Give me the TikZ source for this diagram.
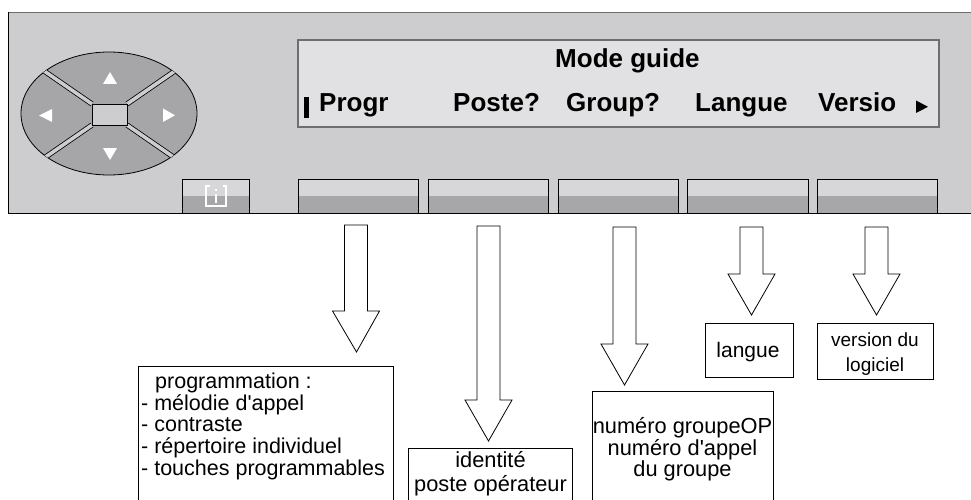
\documentclass[tikz,border=0pt]{standalone}
\usepackage{fontspec}
\setmainfont{Liberation Sans}
\usetikzlibrary{calc}
\definecolor{panel}{HTML}{CDCDCF}
\definecolor{navdark}{HTML}{A6A6A8}
\definecolor{dispfill}{HTML}{E1E1E3}
\definecolor{dispborder}{HTML}{6E6E6E}
\definecolor{keytop}{HTML}{D7D7D9}
\definecolor{keybot}{HTML}{A7A7A9}
\tikzset{
  softkey/.style={draw=black, line width=0.8pt, fill=keybot, anchor=north west, inner sep=0pt,
    minimum height=34pt,
    path picture={\fill[keytop] (path picture bounding box.north west) rectangle (path picture bounding box.east);}},
  disptext/.style={font=\fontsize{26}{30}\selectfont\bfseries, inner sep=0pt, anchor=base west},
  lbox/.style={draw=black, line width=0.8pt, fill=white, inner sep=0pt, anchor=north west},
  ltext/.style={inner sep=0pt},
  barrow/.style={draw=black, line width=0.8pt, fill=white, line join=miter},
  gapline/.style={draw=black, line width=0.8pt, double=panel, double distance=3.6pt}
}
\newcommand\blockarrow[2]{\draw[barrow] let \p1=(#1), \p2=(#2) in
  (\x1-11.5pt,\y1) -- (\x1-11.5pt,\y2+41pt) -- (\x1-23.5pt,\y2+41pt) -- (\x2,\y2)
  -- (\x1+23.5pt,\y2+41pt) -- (\x1+11.5pt,\y2+41pt) -- (\x1+11.5pt,\y1) -- cycle;}
\begin{document}
\begin{tikzpicture}[x=1pt,y=-1pt]
\useasboundingbox (0,0) rectangle (971,500);
% panel
\fill[panel] (8,12) rectangle (990,213);
\draw[dispborder, line width=0.8pt] (990,12) -- (8,12);
\draw[black, line width=0.8pt] (8,12) -- (8,213) -- (990,213);
% navigation cluster
\fill[navdark] (109,113.5) ellipse [x radius=88, y radius=61.5];
\draw[line width=0.8pt] (109,113.5) ellipse [x radius=88, y radius=61.5];
\begin{scope}
  \clip (109,113.5) ellipse [x radius=88, y radius=61.5];
  \draw[gapline] (92,104) -- ++(-100,-69);
  \draw[gapline] (127,104) -- ++(100,-69);
  \draw[gapline] (92,125) -- ++(-100,69);
  \draw[gapline] (127,125) -- ++(100,69);
\end{scope}
\node[draw=black, line width=0.8pt, fill=panel, inner sep=0pt, minimum width=35pt, minimum height=21pt, anchor=north west] (navc) at (92,104) {};
\fill[white] (103,84) -- (117,84) -- (110,72) -- cycle;
\fill[white] (52,109) -- (52,122) -- (39,115.5) -- cycle;
\fill[white] (163,108.5) -- (163,122) -- (175,115.3) -- cycle;
\fill[white] (103,148) -- (117,148) -- (110,160) -- cycle;
% display
\node[draw=dispborder, line width=1.6pt, fill=dispfill, inner sep=0pt, minimum width=641pt, minimum height=87pt, anchor=north west] (display) at (297,39) {};
\node[disptext] (mode) at (555,68) {Mode guide};
\fill (304,97) rectangle (309,118);
\node[disptext] (tprogr) at (319,112) {Progr};
\node[disptext] (tposte) at (453,112) {Poste?};
\node[disptext] (tgroup) at (566,112) {Group?};
\node[disptext] (tlangue) at (695,112) {Langue};
\node[disptext] (tversio) at (818,112) {Versio};
\fill (916,100.5) -- (928,106.8) -- (916,113) -- cycle;
% soft keys
\node[softkey, minimum width=67pt] (kinfo) at (182,179) {};
\node[softkey, minimum width=120pt] (kprogr) at (298,179) {};
\node[softkey, minimum width=120pt] (kposte) at (428,179) {};
\node[softkey, minimum width=120pt] (kgroup) at (558,179) {};
\node[softkey, minimum width=121pt] (klangue) at (687,179) {};
\node[softkey, minimum width=120pt] (kversio) at (817,179) {};
\draw[white, line width=1.8pt] (209.5,186) -- (206,186) -- (206,206) -- (226,206) -- (226,186) -- (222.5,186);
\draw[white, line width=1.6pt] (216,194) -- (216,203);
\fill[white] (215.2,188.5) rectangle (216.8,191);
% boxes
\node[lbox, minimum width=255pt, minimum height=150pt] (progbox) at (138,366) {};
\node[lbox, minimum width=164pt, minimum height=80pt] (idbox) at (408,448) {};
\node[lbox, minimum width=181pt, minimum height=130pt] (grpbox) at (592,391) {};
\node[lbox, minimum width=88pt, minimum height=54pt] (langbox) at (705,323) {};
\node[lbox, minimum width=116pt, minimum height=56pt] (verbox) at (817,323) {};
% texts
\node[ltext, anchor=base west, font=\fontsize{21.5}{21.4}\selectfont] (progtext) at (141,388)
  {\begin{tabular}[t]{@{}l@{}}\hspace*{14pt}programmation :\\- mélodie d\textquotesingle appel\\- contraste\\- répertoire individuel\\- touches programmables\end{tabular}};
\node[ltext, anchor=base, font=\fontsize{21.8}{24}\selectfont] (idtext) at (490.5,467)
  {\begin{tabular}[t]{@{}c@{}}identité\\poste opérateur\end{tabular}};
\node[ltext, anchor=base, font=\fontsize{21.8}{20}\selectfont] (grptext) at (682.5,433)
  {\begin{tabular}[t]{@{}c@{}}numéro groupeOP\\numéro d\textquotesingle appel\\du groupe\end{tabular}};
\node[ltext, anchor=base, font=\fontsize{21}{24}\selectfont] (langtext) at (748,357) {langue};
\node[ltext, anchor=base, font=\fontsize{19}{25}\selectfont] (vertext) at (875,346)
  {\begin{tabular}[t]{@{}c@{}}version du\\logiciel\end{tabular}};
% block arrows
\coordinate (a1s) at (356,225);   \coordinate (a1e) at (356.5,352);
\coordinate (a2s) at (488.5,226); \coordinate (a2e) at (488.5,441);
\coordinate (a3s) at (624.5,227); \coordinate (a3e) at (624.5,385);
\coordinate (a4s) at (751.5,227); \coordinate (a4e) at (751.5,315);
\coordinate (a5s) at (876.5,227); \coordinate (a5e) at (876.5,315);
\blockarrow{a1s}{a1e}
\blockarrow{a2s}{a2e}
\blockarrow{a3s}{a3e}
\blockarrow{a4s}{a4e}
\blockarrow{a5s}{a5e}
\end{tikzpicture}
\end{document}
